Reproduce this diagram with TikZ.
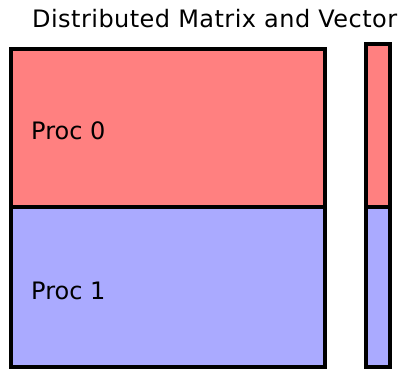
\documentclass[tikz,border=0pt]{standalone}
\usepackage{fontspec}
\setmainfont{DejaVu Sans}
\definecolor{procred}{HTML}{FF8080}
\definecolor{procblue}{HTML}{AAAAFF}
\tikzset{
  block/.style={draw=black, line width=4pt},
  lbl/.style={font=\fontsize{24}{28}\selectfont, inner sep=0pt, anchor=base west}
}
\begin{document}
\begin{tikzpicture}[x=1pt,y=-1pt]
\useasboundingbox (0,0) rectangle (400,369);
% matrix
\filldraw[block, fill=procred] (11,49) rectangle (324.5,207.5);
\filldraw[block, fill=procblue] (11,207.5) rectangle (324.5,367);
% vector
\filldraw[block, fill=procred] (365.5,44) rectangle (390,207.5);
\filldraw[block, fill=procblue] (365.5,207.5) rectangle (390,367);
% labels
\node[lbl] (title) at (32,28) {\addfontfeature{LetterSpace=1.9}Distributed Matrix and Vector};
\node[lbl] (p0) at (31,139.3) {Proc 0};
\node[lbl] (p1) at (31,299.3) {Proc 1};
\end{tikzpicture}
\end{document}
